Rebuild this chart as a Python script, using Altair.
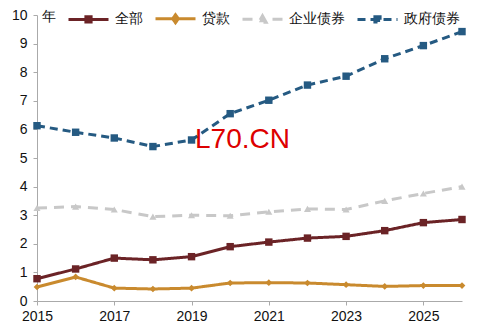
import altair as alt
import pandas as pd

years = list(range(2015, 2027))
series_names = ["全部", "贷款", "企业债券", "政府债券"]
all_vals = [0.78, 1.12, 1.50, 1.44, 1.55, 1.90, 2.06, 2.20, 2.26, 2.46, 2.74, 2.85]
loan_vals = [0.49, 0.84, 0.45, 0.42, 0.45, 0.63, 0.64, 0.63, 0.57, 0.51, 0.54, 0.54]
corp_vals = [3.25, 3.30, 3.20, 2.95, 3.00, 2.98, 3.12, 3.22, 3.20, 3.50, 3.76, 4.00]
gov_vals = [6.13, 5.90, 5.70, 5.40, 5.63, 6.55, 7.02, 7.55, 7.86, 8.47, 8.93, 9.42]
colors = ["#6B2326", "#C98A2E", "#C8C8C8", "#255A82"]
dashes = [[1, 0], [1, 0], [10, 7], [8, 5]]
x_labels = [2015, 2017, 2019, 2021, 2023, 2025]
y_labels = [0, 1, 2, 3, 4, 5, 6, 7, 8, 9, 10]

rows = []
for name, vals in zip(series_names, [all_vals, loan_vals, corp_vals, gov_vals]):
    for y, v in zip(years, vals):
        rows.append({"year": y, "value": v, "series": name})
df = pd.DataFrame(rows)

font = "Liberation Sans"
cscale = alt.Scale(domain=series_names, range=colors)

SQ = "M-1,0H1M-0.13,-0.13H0.13V0.13H-0.13Z"
DI = "M-1,0H1M0,-0.2L0.14,0L0,0.2L-0.14,0Z"
TR = "M-1,0H-0.5M0.5,0H1M0,-0.18L0.18,0.14L-0.18,0.14Z"
shape_sig = ("datum.value === '贷款' ? '%s' : (datum.value === '企业债券' ? '%s' : '%s')"
             % (DI, TR, SQ))
fill_sig = ("datum.value === '全部' ? '%s' : (datum.value === '贷款' ? '%s' : "
            "(datum.value === '企业债券' ? '%s' : '%s'))" % tuple(colors))

x = alt.X("year:Q", scale=alt.Scale(domain=[2015, 2026], nice=False),
          axis=alt.Axis(values=x_labels, format="d", title=None, grid=False,
                        labelFontSize=14, labelColor="#111", labelFont=font,
                        labelFlush=False, labelOverlap=False,
                        domainColor="#aaa", tickColor="#aaa", tickSize=4,
                        labelPadding=4))
y = alt.Y("value:Q", scale=alt.Scale(domain=[0, 10], nice=False),
          axis=alt.Axis(values=y_labels, format="d", title="年", titleAngle=0,
                        titleX=4, titleY=-6, titleAlign="left", titleBaseline="top",
                        titleFontSize=14, titleFontWeight="normal", titleFont=font,
                        titleColor="#111", labelOverlap=False, labelFlush=False,
                        labelSeparation=0,
                        grid=False, labelFontSize=14, labelColor="#111", labelFont=font,
                        domainColor="#aaa", tickColor="#aaa", tickSize=4,
                        labelPadding=6))

base = alt.Chart(df).encode(x=x, y=y)

lines = base.mark_line(strokeWidth=3).encode(
    color=alt.Color("series:N", scale=cscale, sort=series_names,
                    legend=alt.Legend(title=None, orient="none", legendX=30, legendY=-18,
                                      direction="horizontal", columns=4,
                                      symbolType={"expr": shape_sig},
                                      symbolFillColor={"expr": fill_sig},
                                      symbolSize=1600,
                                      symbolStrokeWidth=3, labelFontSize=14,
                                      labelFont=font, labelColor="#111",
                                      columnPadding=6, labelOffset=5)),
    strokeDash=alt.StrokeDash("series:N", scale=alt.Scale(domain=series_names, range=dashes),
                              sort=series_names),
)

fscale = alt.Scale(domain=series_names, range=colors)
pts_sq = base.mark_point(filled=True, size=55, opacity=1, shape="square").encode(
    fill=alt.Fill("series:N", scale=fscale, legend=None)
).transform_filter(alt.FieldOneOfPredicate(field="series", oneOf=["全部", "政府债券"]))
pts_di = base.mark_point(filled=True, size=45, opacity=1, shape="diamond").encode(
    fill=alt.Fill("series:N", scale=fscale, legend=None)
).transform_filter(alt.FieldEqualPredicate(field="series", equal="贷款"))
pts_tr = base.mark_point(filled=True, size=50, opacity=1, shape="triangle-up").encode(
    fill=alt.Fill("series:N", scale=fscale, legend=None)
).transform_filter(alt.FieldEqualPredicate(field="series", equal="企业债券"))

wm = alt.Chart(pd.DataFrame({"t": ["L70.CN"]})).mark_text(
    color="#DD0000", fontSize=28, font=font, align="left", baseline="alphabetic"
).encode(text="t:N", x=alt.value(158), y=alt.value(133))

chart = alt.layer(lines, pts_sq, pts_di, pts_tr, wm).properties(
    width=425, height=286,
    autosize=alt.AutoSizeParams(type="none"),
    padding={"left": 37, "top": 15, "right": 20, "bottom": 35},
).configure_view(stroke=None).configure_axis(labelOverlap=False)

chart.save("out.html", embed_options={"renderer": "svg", "actions": False})
